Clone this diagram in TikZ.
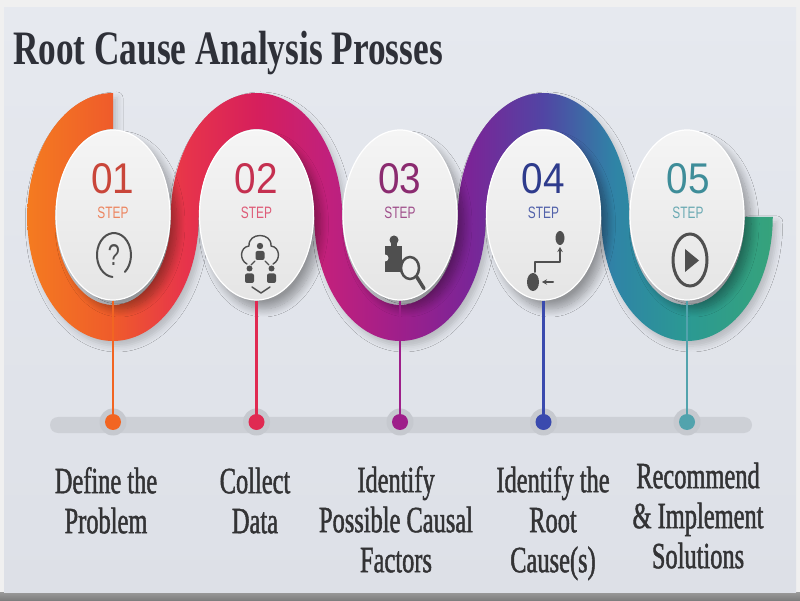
\documentclass[tikz,border=0pt]{standalone}
\usepackage{fontspec}
\usetikzlibrary{shapes.geometric,shadows.blur,arrows.meta}
\newfontfamily\titlefont[FakeStretch=0.735]{Liberation Serif}
\newfontfamily\labelfont[FakeStretch=0.66,FakeBold=1.2]{Liberation Serif}
\newfontfamily\digitfont[FakeStretch=0.9]{Liberation Sans}
\newfontfamily\stepfont[FakeStretch=0.72]{Liberation Sans}
\definecolor{rA}{HTML}{F47B20}
\definecolor{rB}{HTML}{EF5B2B}
\definecolor{rC}{HTML}{E7344B}
\definecolor{rD}{HTML}{D61F5C}
\definecolor{rE}{HTML}{C0207D}
\definecolor{rF}{HTML}{9E1F8B}
\definecolor{rG}{HTML}{7A2597}
\definecolor{rH}{HTML}{5145A4}
\definecolor{rI}{HTML}{2F84A6}
\definecolor{rJ}{HTML}{2B9993}
\definecolor{rK}{HTML}{36A37B}
\definecolor{dA}{HTML}{C9463A}
\definecolor{dB}{HTML}{C53050}
\definecolor{dC}{HTML}{8B2B70}
\definecolor{dD}{HTML}{2E3B8C}
\definecolor{dE}{HTML}{3E8D99}
\definecolor{tA}{HTML}{EC8560}
\definecolor{tB}{HTML}{DE5C78}
\definecolor{tC}{HTML}{A0508C}
\definecolor{tD}{HTML}{5262AA}
\definecolor{tE}{HTML}{6BAAB3}
\definecolor{sA}{HTML}{F26522}
\definecolor{sB}{HTML}{E02A52}
\definecolor{sC}{HTML}{9E1F8A}
\definecolor{sD}{HTML}{3A4AAE}
\definecolor{sE}{HTML}{52A3AD}
\definecolor{icongray}{HTML}{4F4F4F}
\definecolor{circtop}{HTML}{F5F5F5}
\definecolor{circbot}{HTML}{E5E5E5}
\definecolor{circmid}{HTML}{ECECEC}
\definecolor{cardtop}{HTML}{E6E9EF}
\definecolor{cardbot}{HTML}{DDE0E7}
\definecolor{outerbg}{HTML}{F0F0F0}
\definecolor{bargray}{HTML}{CDD0D6}
\definecolor{halogray}{HTML}{C6C9CF}
\definecolor{labelgray}{HTML}{333335}
\definecolor{titlegray}{HTML}{2E3038}
\definecolor{shadowA}{HTML}{9A9A9A}
\definecolor{shadowB}{HTML}{7E7E7E}
\pgfdeclarehorizontalshading{ribbonshade}{100bp}{color(0bp)=(rA); color(25bp)=(rA); color(30.75bp)=(rB); color(35.6bp)=(rC); color(40.4bp)=(rD); color(45.3bp)=(rE); color(50bp)=(rF); color(54.7bp)=(rG); color(59.6bp)=(rH); color(64.4bp)=(rI); color(69.2bp)=(rJ); color(75bp)=(rK); color(100bp)=(rK)}
\tikzset{
  stepcircle/.style={ellipse, minimum width=114pt, minimum height=170pt, inner sep=0pt,
    top color=circtop, bottom color=circbot, draw=white, line width=1.2pt,
    blur shadow={shadow xshift=7pt, shadow yshift=-9pt, shadow opacity=35, shadow blur radius=8pt, shadow blur steps=12}},
  digitlbl/.style={font=\digitfont\fontsize{43}{43}\selectfont, anchor=base, inner sep=0pt, text depth=0pt, text height=31pt},
  steplbl/.style={font=\stepfont\fontsize{16.5}{16.5}\selectfont, anchor=base, inner sep=0pt, text height=12pt},
  iconline/.style={draw=icongray, line width=2pt, line cap=round, line join=round},
  thinicon/.style={draw=icongray, line width=1.4pt, line cap=round, line join=round},
  stemline/.style={line width=2.5pt},
  dothalo/.style={circle, fill=halogray, minimum size=27pt, inner sep=0pt},
  stepdot/.style={circle, minimum size=16pt, inner sep=0pt},
  steptext/.style={font=\labelfont\fontsize{37}{40}\selectfont, text=labelgray, align=center, anchor=north, inner sep=0pt},
  titletext/.style={font=\titlefont\bfseries\fontsize{48}{48}\selectfont, text=titlegray, anchor=base west, inner sep=0pt},
  qmark/.style={font=\stepfont\fontsize{30}{30}\selectfont, text=icongray, inner sep=0pt}
}
\begin{document}
\begin{tikzpicture}[x=1pt,y=1pt]
\useasboundingbox (0,0) rectangle (800,600);
% background card
\fill[outerbg] (0,0) rectangle (800,600);
\shade[top color=shadowA, bottom color=shadowB] (0,0) rectangle (800,8);
\shade[top color=cardtop, bottom color=cardbot] (4,8) rectangle (796,592);
% title
\node[titletext] (title) at (13,535) {Root Cause Analysis Prosses};
% timeline bar
\path[fill=bargray, rounded corners=8pt] (50,167) rectangle (752,183);
% ribbon
\shade[shading=ribbonshade, blur shadow={shadow xshift=4pt, shadow yshift=-5pt, shadow opacity=18, shadow blur radius=6pt}]
  (113,507) arc[start angle=90,end angle=360,x radius=85.75pt,y radius=124pt]
  arc[start angle=180,end angle=0,x radius=57.75pt,y radius=88pt]
  arc[start angle=180,end angle=360,x radius=85.75pt,y radius=124pt]
  arc[start angle=180,end angle=0,x radius=57.75pt,y radius=88pt]
  arc[start angle=180,end angle=360,x radius=85.75pt,y radius=124pt]
  -- ++(-28pt,0pt)
  arc[start angle=360,end angle=180,x radius=57.75pt,y radius=88pt]
  arc[start angle=0,end angle=180,x radius=85.75pt,y radius=124pt]
  arc[start angle=360,end angle=180,x radius=57.75pt,y radius=88pt]
  arc[start angle=0,end angle=180,x radius=85.75pt,y radius=124pt]
  arc[start angle=360,end angle=90,x radius=57.75pt,y radius=88pt]
  -- cycle;
% circles
\node[stepcircle] (c1) at (113,385) {};
\node[stepcircle] (c2) at (256.5,385) {};
\node[stepcircle] (c3) at (400,385) {};
\node[stepcircle] (c4) at (543.5,385) {};
\node[stepcircle] (c5) at (687,385) {};
% digits and STEP
\node[digitlbl, text=dA] (n1) at (113,406) {01};
\node[digitlbl, text=dB] (n2) at (256.5,406) {02};
\node[digitlbl, text=dC] (n3) at (400,406) {03};
\node[digitlbl, text=dD] (n4) at (543.5,406) {04};
\node[digitlbl, text=dE] (n5) at (688,406) {05};
\node[steplbl, text=tA] (p1) at (113,381) {STEP};
\node[steplbl, text=tB] (p2) at (256.5,381) {STEP};
\node[steplbl, text=tC] (p3) at (400,381) {STEP};
\node[steplbl, text=tD] (p4) at (543.5,381) {STEP};
\node[steplbl, text=tE] (p5) at (688,381) {STEP};
% icon 1: question
\draw[iconline] (124.9,328.1) arc[start angle=-50,end angle=265,x radius=17pt,y radius=22pt];
\node[qmark] (q1) at (114,345) {?};
% icon 2: team cloud
\draw[thinicon] (247,336) .. controls (239,340) and (240,353) .. (249,354) .. controls (248,368) and (272,368) .. (271,354) .. controls (280,353) and (281,340) .. (273,336);
\fill[icongray] (260,354) circle[radius=3.2pt];
\fill[icongray, rounded corners=2pt] (255.5,340) rectangle (264.5,349);
\draw[thinicon] (255,339) -- (251,335);
\draw[thinicon] (265,339) -- (269,335);
\fill[icongray] (249.5,331.5) circle[radius=3pt];
\fill[icongray, rounded corners=2pt] (245,317) rectangle (254,326.5);
\fill[icongray] (271.5,331.5) circle[radius=3pt];
\fill[icongray, rounded corners=2pt] (267,317) rectangle (276,326.5);
\draw[thinicon] (252,313) -- (261,307) -- (270,313);
% icon 3: puzzle and magnifier
\fill[icongray] (385,328) rectangle (402,354);
\fill[icongray] (391,353) rectangle (397,358);
\fill[icongray] (394,360) circle[radius=4.5pt];
\fill[circmid] (385,342) circle[radius=3.5pt];
\draw[line width=2.5pt, draw=icongray, fill=circmid] (410,332) ellipse[x radius=9pt, y radius=11pt];
\draw[line width=3.5pt, draw=icongray, line cap=round] (416.5,323.5) -- (424,311.5);
% icon 4: flow
\fill[icongray] (560,362) ellipse[x radius=4.5pt, y radius=7pt];
\draw[iconline, -{Stealth[length=5pt,width=5.5pt]}] (535,328) -- (535,338) -- (560,338) -- (560,353);
\fill[icongray] (533,318) ellipse[x radius=6pt, y radius=9pt];
\draw[iconline, -{Stealth[length=5pt,width=5.5pt]}] (553,318) -- (542,318);
% icon 5: play
\draw[line width=3pt, draw=icongray] (690,340) ellipse[x radius=17pt, y radius=26pt];
\fill[icongray] (685,351) -- (685,328) -- (699,339.5) -- cycle;
% halos, stems, dots
\node[dothalo] (h1) at (113,178) {};
\node[dothalo] (h2) at (256.5,178) {};
\node[dothalo] (h3) at (400,178) {};
\node[dothalo] (h4) at (543.5,178) {};
\node[dothalo] (h5) at (687,178) {};
\draw[stemline, draw=sA] (c1.south) -- (h1.center);
\draw[stemline, draw=sB] (c2.south) -- (h2.center);
\draw[stemline, draw=sC] (c3.south) -- (h3.center);
\draw[stemline, draw=sD] (c4.south) -- (h4.center);
\draw[stemline, draw=sE] (c5.south) -- (h5.center);
\node[stepdot, fill=sA] (d1) at (h1.center) {};
\node[stepdot, fill=sB] (d2) at (h2.center) {};
\node[stepdot, fill=sC] (d3) at (h3.center) {};
\node[stepdot, fill=sD] (d4) at (h4.center) {};
\node[stepdot, fill=sE] (d5) at (h5.center) {};
% labels
\node[steptext] (l1) at (106,135) {\strut Define the\\Problem};
\node[steptext] (l2) at (255,135) {\strut Collect\\Data};
\node[steptext] (l3) at (396,136) {\strut Identify\\Possible Causal\\Factors};
\node[steptext] (l4) at (553,136) {\strut Identify the\\Root\\Cause(s)};
\node[steptext] (l5) at (698,140) {\strut Recommend\\\& Implement\\Solutions};
\end{tikzpicture}
\end{document}
